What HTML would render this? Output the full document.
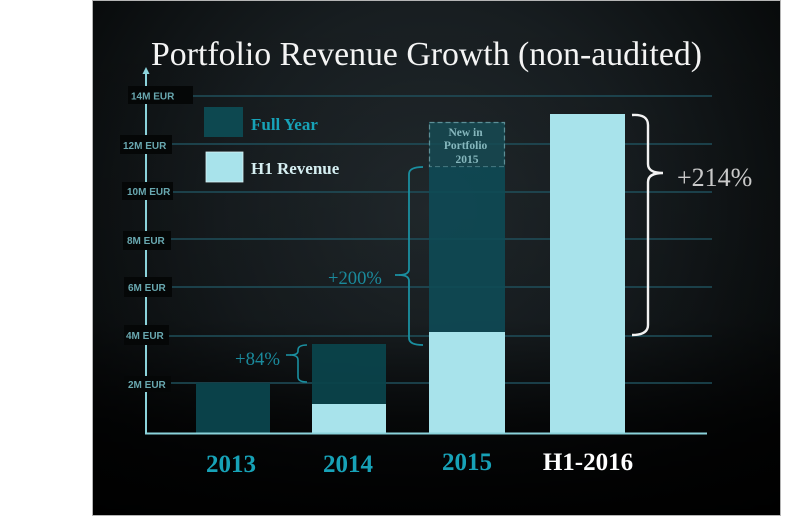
<!DOCTYPE html>
<html><head><meta charset="utf-8"><style>
html,body{margin:0;padding:0;background:#fff;}
svg{display:block;}
</style></head><body>
<svg width="800" height="520" viewBox="0 0 800 520" xmlns="http://www.w3.org/2000/svg">
<defs>
<radialGradient id="bg" cx="430" cy="210" r="470" gradientUnits="userSpaceOnUse">
<stop offset="0" stop-color="#232b2f"/>
<stop offset="0.45" stop-color="#171d20"/>
<stop offset="0.8" stop-color="#0a0d0e"/>
<stop offset="1" stop-color="#040505"/>
</radialGradient>
<linearGradient id="fade" x1="0" y1="0" x2="0" y2="1">
<stop offset="0" stop-color="#000" stop-opacity="0"/>
<stop offset="0.62" stop-color="#000" stop-opacity="0.15"/>
<stop offset="0.82" stop-color="#000" stop-opacity="0.75"/>
<stop offset="1" stop-color="#000" stop-opacity="0.95"/>
</linearGradient>
</defs>
<rect x="0" y="0" width="800" height="520" fill="#fff"/>
<rect x="92.5" y="0.5" width="688" height="515" fill="url(#bg)" stroke="#b5b5b5" stroke-width="1"/>
<rect x="93" y="1" width="687" height="514" fill="url(#fade)"/>

<!-- title -->
<text x="151" y="65" font-family="Liberation Serif, serif" font-size="34" fill="#f4f4f4" textLength="551" lengthAdjust="spacingAndGlyphs">Portfolio Revenue Growth (non-audited)</text>

<!-- gridlines -->
<g stroke="#1f4f5b" stroke-width="1.6">
<line x1="146" y1="96" x2="712" y2="96"/>
<line x1="146" y1="144" x2="712" y2="144"/>
<line x1="146" y1="192" x2="712" y2="192"/>
<line x1="146" y1="239" x2="712" y2="239"/>
<line x1="146" y1="287" x2="712" y2="287"/>
<line x1="146" y1="336" x2="712" y2="336"/>
<line x1="146" y1="383" x2="712" y2="383"/>
</g>

<!-- bars -->
<rect x="196" y="383" width="74" height="50" fill="#0a4149"/>
<rect x="312" y="344" width="74" height="60" fill="#0b434b" opacity="0.95"/>
<rect x="312" y="404" width="74" height="29" fill="#a8e3eb"/>
<rect x="429" y="122" width="76" height="45" fill="#164a53" opacity="0.85"/>
<rect x="429.5" y="122.5" width="75" height="44.5" fill="none" stroke="#5c8f97" stroke-width="1.2" stroke-dasharray="5,3"/>
<rect x="429" y="167" width="76" height="165" fill="#0e4a55" opacity="0.9"/>
<rect x="429" y="332" width="76" height="101" fill="#a8e3eb"/>
<rect x="550" y="114" width="75" height="319" fill="#a8e3eb"/>

<text font-family="Liberation Serif, serif" font-weight="bold" font-size="11.5" fill="#86b7bd" text-anchor="middle">
<tspan x="467" y="136">New in</tspan>
<tspan x="467" y="149">Portfolio</tspan>
<tspan x="467" y="163">2015</tspan>
</text>

<!-- axes -->
<line x1="146" y1="72" x2="146" y2="434" stroke="#8bd3db" stroke-width="2"/>
<polygon points="146,67 142.5,74 149.5,74" fill="#8bd3db"/>
<line x1="145" y1="433.5" x2="707" y2="433.5" stroke="#8bd3db" stroke-width="2"/>

<!-- y labels -->
<g fill="#050707">
<rect x="128" y="86" width="65" height="18"/>
<rect x="120" y="135" width="52" height="19"/>
<rect x="122" y="182" width="51" height="18"/>
<rect x="123" y="231" width="48" height="19"/>
<rect x="124" y="277" width="48" height="20"/>
<rect x="124" y="325" width="45" height="20"/>
<rect x="124" y="376" width="47" height="16"/>
</g>
<g font-family="Liberation Sans, sans-serif" font-weight="bold" font-size="10" fill="#69a8b0">
<text x="131" y="99.5">14M EUR</text>
<text x="123" y="149">12M EUR</text>
<text x="127" y="195">10M EUR</text>
<text x="127" y="244">8M EUR</text>
<text x="128" y="291">6M EUR</text>
<text x="126" y="339">4M EUR</text>
<text x="128" y="388">2M EUR</text>
</g>

<!-- legend -->
<rect x="204" y="107" width="39" height="30" fill="#0d4850"/>
<rect x="206" y="152" width="37" height="30" fill="#a8e3eb" stroke="#d8f2f5" stroke-width="0.8"/>
<text x="251" y="130" font-family="Liberation Serif, serif" font-weight="bold" font-size="17" fill="#17a2b7">Full Year</text>
<text x="251" y="174" font-family="Liberation Serif, serif" font-weight="bold" font-size="17" fill="#d5eef1">H1 Revenue</text>

<!-- braces -->
<path d="M307,345 Q298,345 298,350 L298,351 Q298,355 290,355 Q298,355 298,360 L298,377 Q298,382 307,382" fill="none" stroke="#1a8fa0" stroke-width="1.6"/>
<line x1="286" y1="355" x2="291" y2="355" stroke="#1a8fa0" stroke-width="1.6"/>
<path d="M423,167 Q409,167 409,174 L409,269 Q409,275 399,275 Q409,275 409,281 L409,338 Q409,345 423,345" fill="none" stroke="#1a8fa0" stroke-width="1.8"/>
<line x1="395" y1="275" x2="400" y2="275" stroke="#1a8fa0" stroke-width="1.8"/>
<path d="M632,115 Q648,114 648,125 L648,164 Q648,173 663,173 Q648,173 648,182 L648,325 Q648,335 632,335" fill="none" stroke="#f2f2f2" stroke-width="2.4"/>

<!-- percent labels -->
<text x="235" y="365" font-family="Liberation Serif, serif" font-size="18.8" fill="#1a8a9c">+84%</text>
<text x="328" y="284" font-family="Liberation Serif, serif" font-size="18.6" fill="#1a8a9c">+200%</text>
<text x="677" y="186" font-family="Liberation Serif, serif" font-size="26" fill="#c9c9c9">+214%</text>

<!-- x labels -->
<g font-family="Liberation Serif, serif" font-weight="bold" font-size="25" text-anchor="middle">
<text x="231" y="472" fill="#17a2b7">2013</text>
<text x="348" y="472" fill="#17a2b7">2014</text>
<text x="467" y="470" fill="#17a2b7">2015</text>
<text x="588" y="470" fill="#ffffff">H1-2016</text>
</g>
</svg>
</body></html>
